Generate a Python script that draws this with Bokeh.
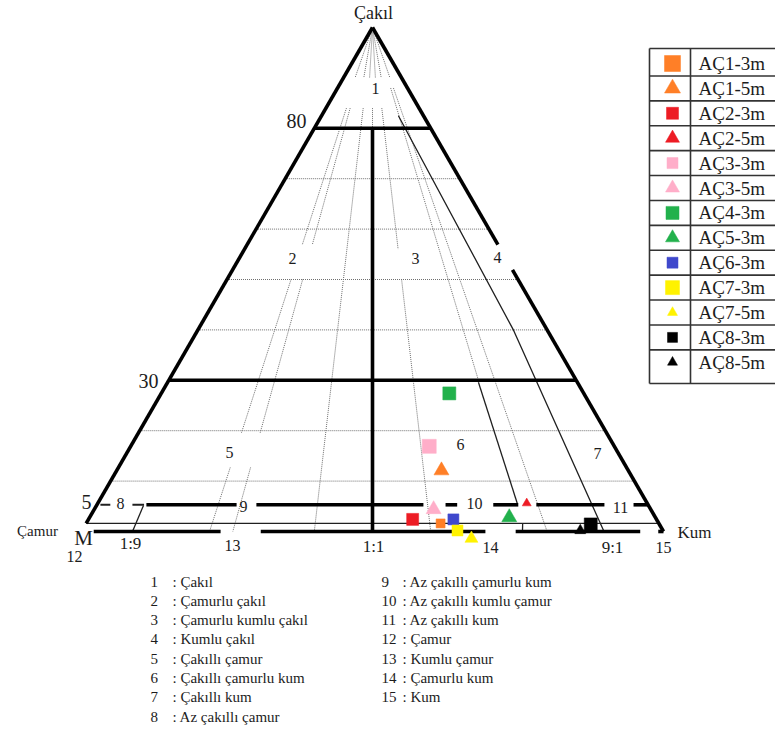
import numpy as np
from bokeh.plotting import figure
from bokeh.models import Range1d
from bokeh.core.properties import value
from bokeh.embed import file_html
from bokeh.resources import INLINE

# ---------------- data ----------------
samples = ["AÇ1-3m", "AÇ1-5m", "AÇ2-3m", "AÇ2-5m", "AÇ3-3m", "AÇ3-5m", "AÇ4-3m",
           "AÇ5-3m", "AÇ6-3m", "AÇ7-3m", "AÇ7-5m", "AÇ8-3m", "AÇ8-5m"]
gravel = [1.6, 12.1, 2.4, 5.6, 16.9, 4.4, 27.4, 2.8, 2.4, 0.2, -1.4, 1.4, 0.2]   # % çakıl
sand = [60.9, 55.8, 55.7, 73.7, 51.3, 58.3, 49.5, 72.1, 62.7, 64.5, 67.7, 86.8, 85.6]  # % kum

class_numbers = [str(i) for i in range(1, 16)]
class_names = ["Çakıl", "Çamurlu çakıl", "Çamurlu kumlu çakıl", "Kumlu çakıl", "Çakıllı çamur",
               "Çakıllı çamurlu kum", "Çakıllı kum", "Az çakıllı çamur", "Az çakıllı çamurlu kum",
               "Az çakıllı kumlu çamur", "Az çakıllı kum", "Çamur", "Kumlu çamur", "Çamurlu kum", "Kum"]
gravel_ticks = ["80", "30", "5"]
ratio_ticks = ["1:9", "1:1", "9:1"]

# ---------------- styles ----------------
kinds = ["square", "triangle", "square", "triangle", "square", "triangle", "square",
         "triangle", "square", "square", "triangle", "square", "triangle"]
colors = ["#FF7F27", "#FF7F27", "#ED1C24", "#ED1C24", "#FFAEC9", "#FFAEC9", "#22B14C",
          "#22B14C", "#3F48CC", "#FFF200", "#FFF200", "#000000", "#000000"]
plot_sizes = [9, 15, 12, 9, 14, 15, 13, 15, 11, 11, 13, 13, 11]
legend_sizes = [16, 16, 12, 14, 11, 14, 13, 14, 11, 14, 10, 10, 10]

FONT = value("Liberation Serif")
INK = "#1c1c1c"

# ternary geometry (page pixel space)
X0, W, Y0, H = 81.0, 582.0, 531.0, 504.0


def tx(g, s):
    g = np.asarray(g, float); s = np.asarray(s, float)
    return X0 + W * (s / 100.0 + g / 200.0)


def ty(g):
    return Y0 - H * np.asarray(g, float) / 100.0


def hline(g, s1, s2):
    return [float(tx(g, s1)), float(tx(g, s2))], [float(ty(g)), float(ty(g))]


def seg(g1, s1, g2, s2):
    return [float(tx(g1, s1)), float(tx(g2, s2))], [float(ty(g1)), float(ty(g2))]


def ratio(r, g1, g2):
    return seg(g1, r * (100 - g1), g2, r * (100 - g2))


p = figure(width=775, height=725, x_range=Range1d(0, 775), y_range=Range1d(725, 0),
           output_backend="svg", toolbar_location=None, x_axis_type=None, y_axis_type=None,
           min_border=0, outline_line_color=None)
p.grid.visible = False


def draw(segs, **kw):
    xs = [s[0] for s in segs]
    ys = [s[1] for s in segs]
    p.multi_line(xs, ys, **kw)


# dotted grid: horizontal gravel lines
dot_h = [hline(g, 0, 100 - g) for g in [70, 60, 50, 40, 20, 10]]
# dotted ratio lines
dot_r = []
for r in [0.22, 0.26]:
    dot_r += [ratio(r, 84, 57), ratio(r, 50, 19.5), ratio(r, 12.7, 0)]
dot_r += [ratio(0.40, 84, 0), ratio(0.60, 84, 56), ratio(0.60, 50, 0),
          ratio(0.76, 88, 30), ratio(0.80, 88, 0), ratio(0.5, 84, 80)]
for r in [0.2, 0.35, 0.45, 0.55, 0.65, 0.8]:
    dot_r.append(ratio(r, 99, 90))
draw(dot_h + dot_r, line_color="#707070", line_width=1, line_dash="1 1")

# thin solid lines
thin = [hline(1.6, 0, 98.4),
        [[float(v) for v in tx([82.5, 39.9, 0.2], [13.2, 54.3, 89.6])],
         [float(v) for v in ty([82.5, 39.9, 0.2])]],
        seg(29.6, 53.4, 5.56, 72.1),
        seg(5.16, 8.07, 0, 8.76),
        seg(1.6, 75.0, 0, 75.77)]
draw(thin, line_color="#202020", line_width=1.3)

# thin dashes around label 8
draw([hline(5.3, 0.6, 2.3), hline(5.3, 6.1, 8.1)], line_color="#202020", line_width=2)

# thick structure
thick = [seg(100, 0, 1.6, 0),
         seg(100, 0, 56.9, 43.1), seg(51.9, 48.1, 0, 100),
         hline(80, 0, 20), hline(30, 0, 70),
         ratio(0.5, 80, 0)]
for a, b in [(8.5, 24.0), (27.4, 56.1), (59.9, 61.9), (68.1, 72.4), (75.5, 87.2), (92.2, 94.7)]:
    thick.append(hline(5.3, a, b))
for a, b in [(2.1, 23.9), (30.8, 69.4), (74.6, 96.0), (99.1, 100.0)]:
    thick.append(hline(0, a, b))
draw(thick, line_color="#000000", line_width=3.6)

# ---------------- samples ----------------
px = tx(gravel, sand)
py = ty(gravel)
for i in range(len(samples)):
    p.scatter([px[i]], [py[i]], marker=kinds[i], size=plot_sizes[i],
              fill_color=colors[i], line_color=colors[i], line_width=0.5)

# ---------------- texts ----------------
def txt(xs, ys, labels, size, align="center"):
    p.text(x=xs, y=ys, text=labels, text_font=FONT, text_font_size=size,
           text_align=align, text_baseline="middle", text_color=INK)


txt([373], [12], ["Çakıl"], "18px")
txt([296, 148, 86], [120, 380, 501], gravel_ticks, "20px")
txt([130, 373, 612], [543, 546, 547], ratio_ticks, "17px")
txt([37], [530], ["Çamur"], "15px")
txt([83], [537], ["M"], "21px")
txt([694], [532], ["Kum"], "17px")
# region numbers
reg_x = [375, 292, 415, 497, 229, 460, 597, 120, 243, 474, 620, 74, 232, 490, 663]
reg_y = [88, 258, 258, 257, 452, 444, 453, 503, 506, 503, 507, 556, 545, 547, 547]
txt(reg_x, reg_y, class_numbers, "16px")

# key below the diagram
row = 19.3
kx_num = [150] * 8 + [381] * 7
kx_txt = [172] * 8 + [402] * 7
ky = [581 + row * i for i in range(8)] + [581 + row * i for i in range(7)]
txt(kx_num, ky, class_numbers, "15px", align="left")
txt(kx_txt, ky, [": " + n for n in class_names], "15px", align="left")

# ---------------- legend table ----------------
top, bottom = 48, 383
centers = [63 + 24.9 * i for i in range(len(samples))]
seps = [top] + [(centers[i] + centers[i + 1]) / 2 for i in range(len(samples) - 1)] + [bottom]
p.multi_line([[649, 775] for _ in seps], [[s, s] for s in seps], line_color="#333333", line_width=1.6)
p.multi_line([[649, 649], [690, 690]], [[top, bottom], [top, bottom]], line_color="#333333", line_width=1.6)
for i in range(len(samples)):
    p.scatter([672], [centers[i]], marker=kinds[i], size=legend_sizes[i],
              fill_color=colors[i], line_color=colors[i], line_width=0.5)
txt([698] * len(samples), centers, samples, "19px", align="left")

open("out.html", "w").write(file_html(p, INLINE))
